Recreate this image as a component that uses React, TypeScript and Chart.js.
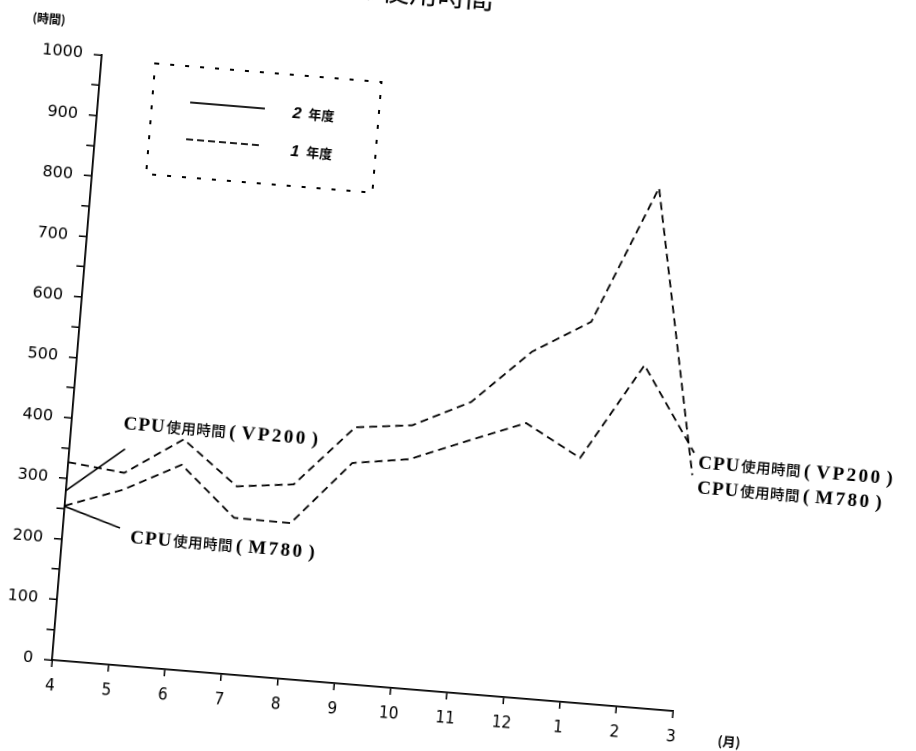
import { useEffect, useRef } from 'react';
import { Chart, registerables } from 'chart.js';

Chart.register(...registerables);

// ---- data ----
const months = ['4', '5', '6', '7', '8', '9', '10', '11', '12', '1', '2', '3'];
const vp200Year1 = [327, 317, 380, 310, 321, 423, 434, 480, 571, 628, 857, 390];
const m780Year1 = [255, 289, 338, 258, 257, 364, 378, 416, 453, 403, 564, 427];
const vp200Year2 = [280, null, null, null, null, null, null, null, null, null, null, null];
const m780Year2 = [254, null, null, null, null, null, null, null, null, null, null, null];
const yMax = 1000;
const yStep = 50;
const yLabelEvery = 100;
const legendYears = ['2', '1'];
const seriesNames = ['VP200', 'M780'];

// ---- layout / style ----
const CW = 1000;
const CH = 850;
const ORIGIN_X = 104;
const ORIGIN_Y = 692;
const ROT = 4.7;

const SERIF = 'bold 19px "Liberation Serif", "DejaVu Serif", serif';
const CJK = '500 14.5px "Noto Sans CJK JP", sans-serif';

type Run = { t: string; f: string; sp?: number; gap?: number };

function drawRun(ctx: CanvasRenderingContext2D, x: number, y: number, runs: Run[]) {
  let cx = x;
  for (const r of runs) {
    cx += r.gap || 0;
    ctx.font = r.f;
    for (const ch of r.t) {
      ctx.fillText(ch, cx, y);
      cx += ctx.measureText(ch).width + (r.sp || 0);
    }
  }
}

function cpuLabel(name: string): Run[] {
  return [
    { t: 'CPU', f: SERIF, sp: 1 },
    { t: '使用時間', f: CJK, sp: 0.5, gap: 1 },
    { t: '(', f: SERIF, gap: 3 },
    { t: name, f: SERIF, sp: 2.5, gap: 6 },
    { t: ')', f: SERIF, gap: 4 },
  ];
}

const annotPlugin = {
  id: 'annot',
  afterDatasetsDraw(chart: any) {
    const ctx: CanvasRenderingContext2D = chart.ctx;
    const xs = chart.scales.x;
    const ys = chart.scales.y;
    ctx.save();
    ctx.fillStyle = '#000';
    ctx.strokeStyle = '#000';
    ctx.textBaseline = 'alphabetic';
    ctx.textAlign = 'left';

    // leaders from the 2年度 April points
    const p1 = { x: xs.getPixelForValue(0), y: ys.getPixelForValue(vp200Year2[0] as number) };
    const p2 = { x: xs.getPixelForValue(0), y: ys.getPixelForValue(m780Year2[0] as number) };
    ctx.lineWidth = 1.6;
    ctx.setLineDash([]);
    ctx.beginPath();
    ctx.moveTo(p1.x, p1.y);
    ctx.lineTo(159.5, 475.7);
    ctx.moveTo(p2.x, p2.y);
    ctx.lineTo(161, 554.9);
    ctx.stroke();

    // series labels
    drawRun(ctx, 156, 456, cpuLabel(seriesNames[0]));
    drawRun(ctx, 172, 569, cpuLabel(seriesNames[1]));
    drawRun(ctx, 732, 448, cpuLabel(seriesNames[0]));
    drawRun(ctx, 733, 473, cpuLabel(seriesNames[1]));

    // legend box
    ctx.lineWidth = 2;
    ctx.setLineDash([4, 11]);
    ctx.strokeRect(158, 89, 227, 111);
    ctx.setLineDash([]);
    ctx.lineWidth = 1.8;
    ctx.beginPath();
    ctx.moveTo(196, 125);
    ctx.lineTo(271, 125);
    ctx.stroke();
    ctx.setLineDash([7, 4]);
    ctx.beginPath();
    ctx.moveTo(195, 162);
    ctx.lineTo(272, 162);
    ctx.stroke();
    ctx.setLineDash([]);
    drawRun(ctx, 299, 132, [
      { t: legendYears[0], f: 'italic bold 16px "Liberation Sans", sans-serif' },
      { t: '年度', f: 'bold 13px "Noto Sans CJK JP", sans-serif', gap: 7 },
    ]);
    drawRun(ctx, 300, 170, [
      { t: legendYears[1], f: 'italic bold 16px "Liberation Sans", sans-serif' },
      { t: '年度', f: 'bold 13px "Noto Sans CJK JP", sans-serif', gap: 7 },
    ]);

    // axis unit labels
    ctx.font = 'bold 12px "Noto Sans CJK JP", sans-serif';
    ctx.textBaseline = 'middle';
    ctx.fillText('(時間)', 32, 53);
    ctx.font = 'bold 13px "Noto Sans CJK JP", sans-serif';
    ctx.fillText('(月)', 774, 718);

    // title (cut off at top in the scan)
    ctx.textBaseline = 'alphabetic';
    ctx.textAlign = 'center';
    ctx.font = '28px "Noto Sans CJK JP", sans-serif';
    ctx.fillText('の使用時間', 420, 7);
    ctx.restore();
  },
};

export default function App() {
  const ref = useRef<HTMLCanvasElement | null>(null);
  useEffect(() => {
    if (!ref.current) return;
    const dash = {
      borderColor: '#000',
      borderWidth: 1.8,
      borderDash: [8, 5],
      pointRadius: 0,
      tension: 0,
      fill: false,
    };
    const solid = {
      borderColor: '#000',
      borderWidth: 1.6,
      pointRadius: 0,
      tension: 0,
      fill: false,
    };
    const chart = new Chart(ref.current, {
      type: 'line',
      data: {
        labels: months,
        datasets: [
          { label: '1年度 VP200', data: vp200Year1, ...dash },
          { label: '1年度 M780', data: m780Year1, ...dash },
          { label: '2年度 VP200', data: vp200Year2, ...solid },
          { label: '2年度 M780', data: m780Year2, ...solid },
        ],
      },
      options: {
        animation: false,
        responsive: false,
        devicePixelRatio: 2,
        layout: { padding: { left: 44, top: 85, right: 273, bottom: 98 } },
        plugins: { legend: { display: false }, tooltip: { enabled: false }, title: { display: false } },
        scales: {
          x: {
            type: 'category',
            offset: false,
            afterFit: (s: any) => {
              s.height = 60;
            },
            grid: { drawOnChartArea: false, tickLength: 7, color: '#000', lineWidth: 1.5 },
            border: { display: true, color: '#000', width: 1.8 },
            ticks: {
              color: '#000',
              padding: 9,
              maxRotation: 0,
              autoSkip: false,
              font: { family: '"Liberation Sans Narrow", "DejaVu Sans Condensed", "Liberation Sans", sans-serif', size: 17 },
            },
          },
          y: {
            min: 0,
            max: yMax,
            afterFit: (s: any) => {
              s.width = 60;
            },
            grid: { drawOnChartArea: false, tickLength: 8, color: '#000', lineWidth: 1.5 },
            border: { display: true, color: '#000', width: 1.8 },
            ticks: {
              stepSize: yStep,
              autoSkip: false,
              color: '#000',
              padding: 11,
              font: { family: '"DejaVu Sans", sans-serif', size: 16 },
              callback: (v: any) => (Number(v) % yLabelEvery === 0 ? String(v) : ''),
            },
          },
        },
      },
      plugins: [annotPlugin],
    });
    return () => chart.destroy();
  }, []);

  return (
    <div
      style={{
        position: 'fixed',
        left: 0,
        top: 0,
        width: 916,
        height: 751,
        overflow: 'hidden',
        background: '#fff',
      }}
    >
      <canvas
        ref={ref}
        width={CW}
        height={CH}
        style={{
          position: 'absolute',
          left: -52,
          top: -32,
          width: CW,
          height: CH,
          transform: `rotate(${ROT}deg)`,
          transformOrigin: `${ORIGIN_X}px ${ORIGIN_Y}px`,
        }}
      />
    </div>
  );
}
